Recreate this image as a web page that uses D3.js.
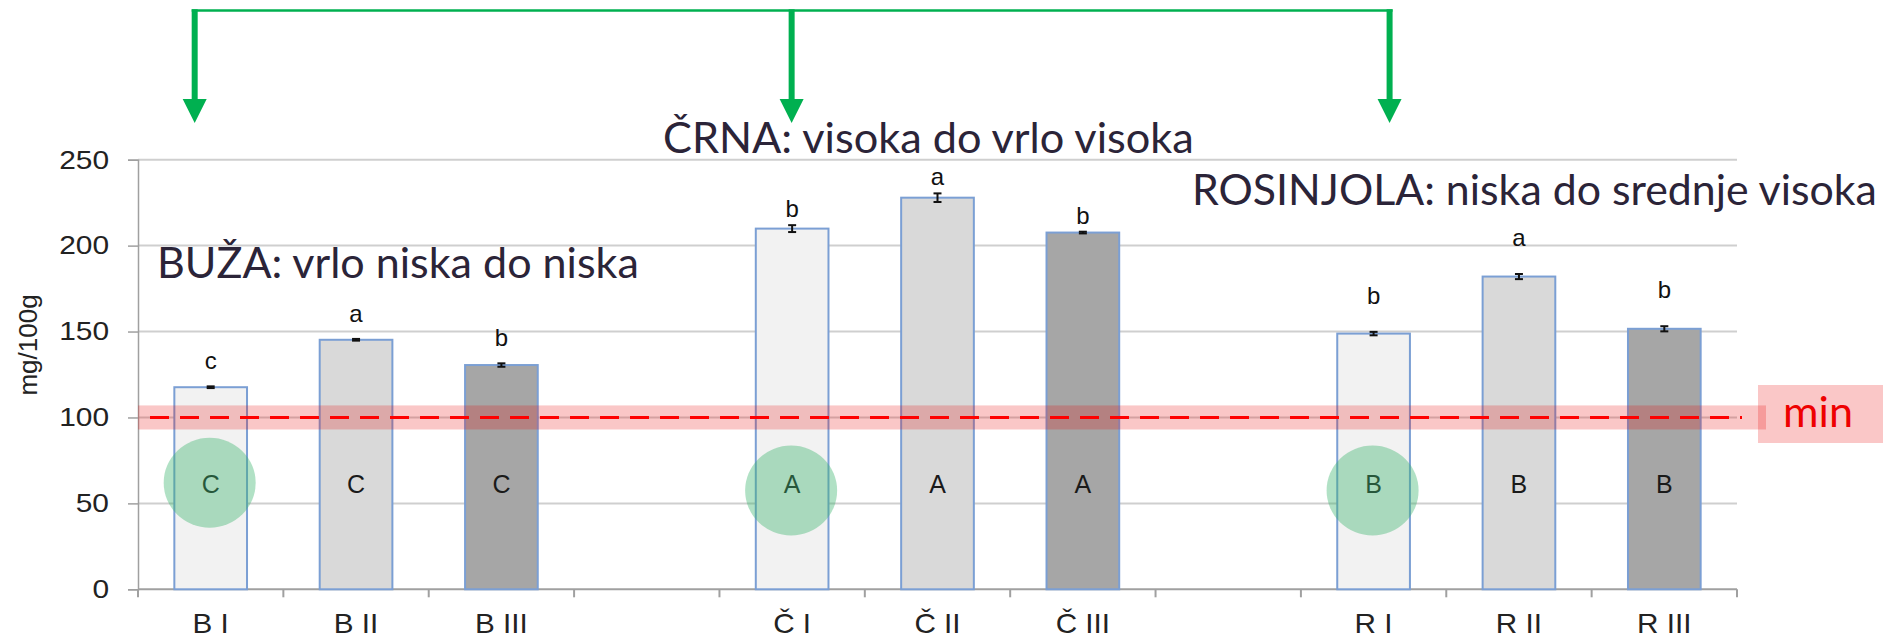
<!DOCTYPE html>
<html>
<head>
<meta charset="utf-8">
<script src="https://cdn.jsdelivr.net/npm/d3@7"></script>
<style>
  html, body { margin: 0; padding: 0; background: #ffffff; }
  svg { display: block; }
</style>
</head>
<body>
<svg id="chart" width="1883" height="638"></svg>
<script>
// ---------------- DATA ----------------
const slots = ["B I", "B II", "B III", "gap1", "Č I", "Č II", "Č III", "gap2", "R I", "R II", "R III"];
const categories = ["B I", "B II", "B III", "Č I", "Č II", "Č III", "R I", "R II", "R III"];
const values = [117.6, 145.2, 130.5, 209.9, 227.9, 207.6, 148.8, 182.0, 151.6];
const errors = [0.5, 0.5, 1.0, 2.0, 2.5, 0.5, 1.0, 1.5, 1.5];
const letters = ["c", "a", "b", "b", "a", "b", "b", "a", "b"];
const groupLetters = ["C", "C", "C", "A", "A", "A", "B", "B", "B"];
const treatment = ["I", "II", "III", "I", "II", "III", "I", "II", "III"];
const group = ["B", "B", "B", "Č", "Č", "Č", "R", "R", "R"];
const yTicks = [0, 50, 100, 150, 200, 250];
const minValue = 100;
const yLabel = "mg/100g";
const titles = ["BUŽA: vrlo niska do niska", "ČRNA: visoka do vrlo visoka", "ROSINJOLA: niska do srednje visoka"];
const highlighted = ["B I", "Č I", "R I"];

// ---------------- LAYOUT / STYLE ----------------
const W = 1883, H = 638;
const plot = { left: 138, right: 1737, top: 159.7, bottom: 589.3 };
const fills = { "I": "#f2f2f2", "II": "#d9d9d9", "III": "#a6a6a6" };
const letterOffset = { "B": 17, "Č": 8, "R": 28 };
const titleColor = "#2b2438";
const green = "#00b050";
const arial = "'Liberation Sans', Arial, sans-serif";

const svg = d3.select("#chart");
svg.append("rect").attr("width", W).attr("height", H).attr("fill", "#fff");

const x = d3.scaleBand().domain(slots).range([plot.left, plot.right])
  .paddingInner(0.5).paddingOuter(0.25);
const y = d3.scaleLinear().domain([0, 250]).range([plot.bottom, plot.top]);
const step = x.step();
const bw = x.bandwidth();
const cx = c => x(c) + bw / 2;

// gridlines
svg.append("g").selectAll("line").data(yTicks.filter(t => t > 0)).join("line")
  .attr("x1", plot.left).attr("x2", plot.right)
  .attr("y1", d => y(d)).attr("y2", d => y(d))
  .attr("stroke", "#cfcfcf").attr("stroke-width", 2);

// y axis
const yAxis = svg.append("g").attr("transform", `translate(${plot.left},0)`)
  .call(d3.axisLeft(y).tickValues(yTicks).tickSize(10).tickPadding(0));
yAxis.select(".domain").attr("stroke", "#a0a0a0").attr("stroke-width", 1.5);
yAxis.selectAll(".tick line").attr("stroke", "#a0a0a0").attr("stroke-width", 1.5);
yAxis.selectAll(".tick text")
  .attr("font-family", arial)
  .attr("font-size", 26).attr("fill", "#222")
  .attr("x", -29 / 1.15).attr("transform", "scale(1.15,1)");

// y label
svg.append("text").text(yLabel)
  .attr("transform", "translate(37,345) rotate(-90)")
  .attr("text-anchor", "middle")
  .attr("font-family", arial)
  .attr("font-size", 26).attr("fill", "#222");

// x axis
const xAxis = svg.append("g").attr("transform", `translate(0,${plot.bottom})`)
  .call(d3.axisBottom(x).tickSize(0).tickPadding(0).tickFormat(d => d.startsWith("gap") ? "" : d));
xAxis.select(".domain").remove();
xAxis.selectAll(".tick text")
  .attr("font-family", arial)
  .attr("font-size", 27).attr("fill", "#222")
  .attr("dy", 0).attr("y", 44).attr("transform", "scale(1.1,1)");
svg.append("line").attr("x1", plot.left).attr("x2", plot.right)
  .attr("y1", plot.bottom).attr("y2", plot.bottom)
  .attr("stroke", "#a0a0a0").attr("stroke-width", 2);
svg.append("g").selectAll("line").data(d3.range(slots.length + 1)).join("line")
  .attr("x1", i => plot.left + i * step).attr("x2", i => plot.left + i * step)
  .attr("y1", plot.bottom).attr("y2", plot.bottom + 8)
  .attr("stroke", "#a0a0a0").attr("stroke-width", 2);

// bars
const data = categories.map((c, i) => ({
  c, v: values[i], e: errors[i], l: letters[i], g: groupLetters[i], t: treatment[i], grp: group[i]
}));
svg.append("g").selectAll("rect").data(data).join("rect")
  .attr("x", d => x(d.c)).attr("width", bw)
  .attr("y", d => y(d.v)).attr("height", d => y(0) - y(d.v))
  .attr("fill", d => fills[d.t])
  .attr("stroke", "#7b9fd4").attr("stroke-width", 2);

// error bars
const eg = svg.append("g").attr("stroke", "#111").attr("stroke-width", 2);
data.forEach(d => {
  const xc = cx(d.c);
  eg.append("line").attr("x1", xc).attr("x2", xc).attr("y1", y(d.v - d.e)).attr("y2", y(d.v + d.e));
  eg.append("line").attr("x1", xc - 4).attr("x2", xc + 4).attr("y1", y(d.v + d.e)).attr("y2", y(d.v + d.e));
  eg.append("line").attr("x1", xc - 4).attr("x2", xc + 4).attr("y1", y(d.v - d.e)).attr("y2", y(d.v - d.e));
});

// significance letters above bars
svg.append("g").selectAll("text").data(data).join("text")
  .attr("x", d => cx(d.c)).attr("y", d => y(d.v + d.e) - letterOffset[d.grp])
  .attr("text-anchor", "middle")
  .attr("font-family", arial)
  .attr("font-size", 24).attr("fill", "#111")
  .text(d => d.l);

// group letters inside bars
svg.append("g").selectAll("text").data(data).join("text")
  .attr("x", d => cx(d.c)).attr("y", y(61)).attr("dy", "0.36em")
  .attr("text-anchor", "middle")
  .attr("font-family", arial)
  .attr("font-size", 25).attr("fill", "#1a1a1a")
  .text(d => d.g);

// green circles on highlighted bars
svg.append("g").selectAll("ellipse").data(highlighted).join("ellipse")
  .attr("cx", d => cx(d) - 1).attr("cy", (d, i) => y(i === 0 ? 62 : 57.5))
  .attr("rx", 46).attr("ry", 45)
  .attr("fill", "rgb(60,180,110)").attr("fill-opacity", 0.4);

// min band + dashed line
svg.append("rect")
  .attr("x", plot.left).attr("width", 1766 - plot.left)
  .attr("y", y(minValue + 7)).attr("height", y(minValue - 7) - y(minValue + 7))
  .attr("fill", "#e60000").attr("fill-opacity", 0.22);
svg.append("line")
  .attr("x1", plot.left + 12).attr("x2", plot.right + 5)
  .attr("y1", y(minValue)).attr("y2", y(minValue))
  .attr("stroke", "#ff0000").attr("stroke-width", 3).attr("stroke-dasharray", "19 11");
svg.append("rect").attr("x", 1758).attr("y", 385).attr("width", W - 1758).attr("height", 58)
  .attr("fill", "#e60000").attr("fill-opacity", 0.22);
const minText = svg.append("text").text("min")
  .attr("x", 1783).attr("y", 427)
  .attr("font-family", "Lato, 'Open Sans', sans-serif")
  .attr("font-size", 44).attr("fill", "#ee0000");

// titles
function fit(sel, target) {
  const base = 40;
  sel.attr("font-size", base);
  const len = sel.node().getComputedTextLength();
  sel.attr("font-size", base * target / len);
}
const titleSpec = [
  { x: 157, y: 278, w: 482 },
  { x: 663, y: 153, w: 531 },
  { x: 1192, y: 205, w: 685 }
];
titles.forEach((t, i) => {
  const s = svg.append("text").text(t)
    .attr("x", titleSpec[i].x).attr("y", titleSpec[i].y)
    .attr("font-family", "Lato, 'Open Sans', sans-serif")
    .attr("fill", titleColor);
  fit(s, titleSpec[i].w);
});
fit(minText, 70);

// green arrows
const arrowX = [cx("B I") - 16, cx("Č I") - 0.5, cx("R I") + 16];
const topY = 10.5, headTop = 99, headTip = 123;
const ag = svg.append("g");
ag.append("line").attr("x1", arrowX[0] - 3).attr("x2", arrowX[2] + 3)
  .attr("y1", topY).attr("y2", topY).attr("stroke", green).attr("stroke-width", 2.5);
arrowX.forEach(ax => {
  ag.append("line").attr("x1", ax).attr("x2", ax).attr("y1", topY - 1.25).attr("y2", headTop + 2)
    .attr("stroke", green).attr("stroke-width", 6);
  ag.append("path")
    .attr("d", `M${ax - 12},${headTop} L${ax + 12},${headTop} L${ax},${headTip} Z`)
    .attr("fill", green);
});
</script>
</body>
</html>
